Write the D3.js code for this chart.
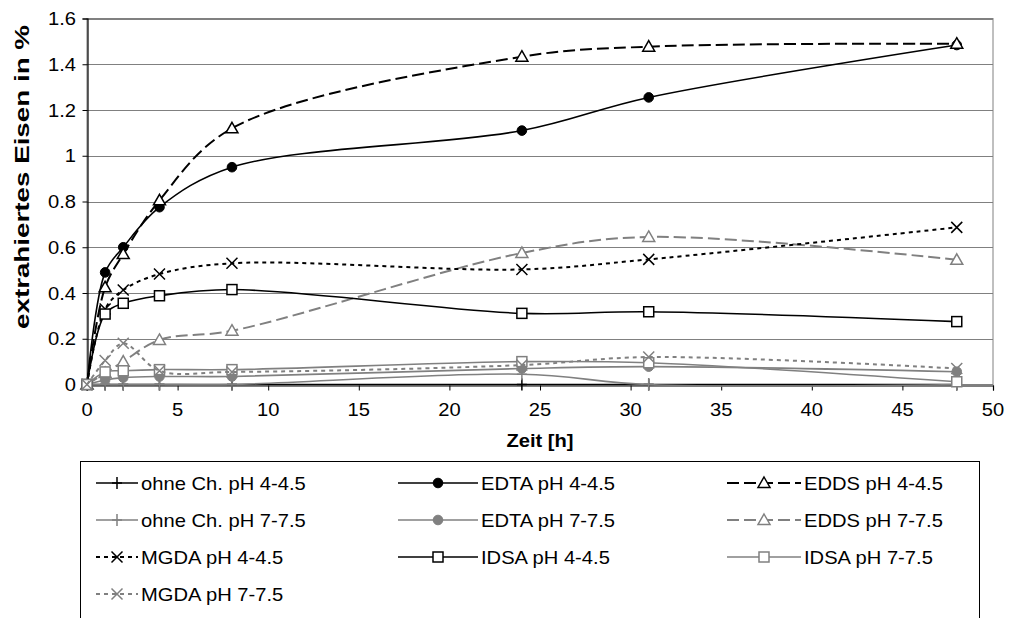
<!DOCTYPE html>
<html>
<head>
<meta charset="utf-8">
<script src="https://cdn.jsdelivr.net/npm/d3@7"></script>
<style>
  html, body { margin: 0; padding: 0; background: #fff; }
  svg { display: block; }
  text { font-family: "Liberation Sans", Arial, sans-serif; fill: #000; }
</style>
</head>
<body>
<svg id="chart" width="1009" height="618"></svg>
<script>
// Sampling times (h)
const times = [0, 1, 2, 4, 8, 24, 31, 48];

// Extracted iron (%) per chelator and pH range
const ohne4 = [0, 0, 0, 0, 0, 0, 0, 0];
const edta4 = [0, 0.49, 0.60, 0.775, 0.95, 1.11, 1.255, 1.484];
const edds4 = [0, 0.425, 0.57, 0.805, 1.12, 1.433, 1.477, 1.49];
const ohne7 = [0, 0, 0, 0, 0, 0.045, 0, 0];
const edta7 = [0, 0.02, 0.03, 0.035, 0.035, 0.07, 0.078, 0.056];
const edds7 = [0, 0.05, 0.10, 0.195, 0.235, 0.575, 0.645, 0.545];
const mgda4 = [0, 0.33, 0.413, 0.483, 0.53, 0.503, 0.547, 0.687];
const idsa4 = [0, 0.308, 0.355, 0.388, 0.415, 0.311, 0.318, 0.275];
const idsa7 = [0, 0.055, 0.06, 0.065, 0.065, 0.10, 0.095, 0.012];
const mgda7 = [0, 0.105, 0.18, 0.06, 0.055, 0.085, 0.12, 0.07];

const seriesNames = [
  "ohne Ch. pH 4-4.5", "EDTA pH 4-4.5", "EDDS pH 4-4.5",
  "ohne Ch. pH 7-7.5", "EDTA pH 7-7.5", "EDDS pH 7-7.5",
  "MGDA pH 4-4.5", "IDSA pH 4-4.5", "IDSA pH 7-7.5",
  "MGDA pH 7-7.5"
];
const seriesValues = [ohne4, edta4, edds4, ohne7, edta7, edds7, mgda4, idsa4, idsa7, mgda7];

const xTicks = [0, 5, 10, 15, 20, 25, 30, 35, 40, 45, 50];
const yTicks = [0, 0.2, 0.4, 0.6, 0.8, 1, 1.2, 1.4, 1.6];

const xTitle = "Zeit [h]";
const yTitle = "extrahiertes Eisen in %";

// Visual styles per series
const BLACK = "#000", GREY = "#808080";
const styles = [
  { color: BLACK, dash: null,   width: 1.6, marker: "plus" },
  { color: BLACK, dash: null,   width: 1.6, marker: "circle" },
  { color: BLACK, dash: "12,5", width: 2,   marker: "triangle" },
  { color: GREY,  dash: null,   width: 1.6, marker: "plus" },
  { color: GREY,  dash: null,   width: 1.6, marker: "circle" },
  { color: GREY,  dash: "12,5", width: 2,   marker: "triangle" },
  { color: BLACK, dash: "4,4",  width: 2,   marker: "cross" },
  { color: BLACK, dash: null,   width: 1.6, marker: "square" },
  { color: GREY,  dash: null,   width: 1.6, marker: "square" },
  { color: GREY,  dash: "4,4",  width: 2,   marker: "cross" }
];

const svg = d3.select("#chart");
const SX = 1.12; // horizontal text stretch

const x = d3.scaleLinear().domain([0, 50]).range([87, 993]);
const y = d3.scaleLinear().domain([0, 1.6]).range([384.5, 18.5]);

function stretchedText(sel, tx, ty, str, anchor, opts = {}) {
  const t = sel.append("text")
    .attr("transform", `translate(${tx},${ty}) scale(${SX},1)`)
    .attr("text-anchor", anchor)
    .attr("font-size", opts.size || 18)
    .attr("font-weight", opts.weight || "normal")
    .text(str);
  return t;
}

// Plot area frame
svg.append("rect")
  .attr("x", x(0)).attr("y", y(1.6))
  .attr("width", x(50) - x(0)).attr("height", y(0) - y(1.6))
  .attr("fill", "#fff").attr("stroke", GREY).attr("stroke-width", 1);

// Horizontal gridlines
svg.append("g").selectAll("line").data(yTicks.filter(d => d > 0)).join("line")
  .attr("x1", x(0)).attr("x2", x(50))
  .attr("y1", d => Math.round(y(d)) + 0.5).attr("y2", d => Math.round(y(d)) + 0.5)
  .attr("stroke", GREY).attr("stroke-width", 1);

// Axes
const xAxis = d3.axisBottom(x).tickValues(xTicks).tickSize(5).tickFormat("");
const yAxis = d3.axisLeft(y).tickValues(yTicks).tickSize(5).tickFormat("");
svg.append("g").attr("transform", `translate(0,${Math.round(y(0)) + 0.5})`).call(xAxis)
  .call(g => g.select(".domain").attr("stroke", BLACK).attr("stroke-width", 1.2))
  .call(g => g.selectAll(".tick line").attr("stroke", BLACK));
svg.append("g").attr("transform", `translate(${Math.round(x(0)) + 0.5},0)`).call(yAxis)
  .call(g => g.select(".domain").attr("stroke", BLACK).attr("stroke-width", 1.2))
  .call(g => g.selectAll(".tick line").attr("stroke", BLACK));

// Tick labels
xTicks.forEach(v => stretchedText(svg, x(v), 416, String(v), "middle"));
yTicks.forEach(v => stretchedText(svg, 76, y(v) + 6.5, String(v), "end"));

// Axis titles
stretchedText(svg, x(25), 447, xTitle, "middle", { weight: "bold" });
svg.append("text")
  .attr("transform", `translate(29,177) rotate(-90)`)
  .attr("text-anchor", "middle")
  .attr("font-size", 20).attr("font-weight", "bold")
  .attr("textLength", 304).attr("lengthAdjust", "spacingAndGlyphs")
  .text(yTitle);

// Marker drawing
function drawMarker(g, type, color, cx, cy) {
  const m = g.append("g").attr("transform", `translate(${cx},${cy})`);
  if (type === "plus") {
    m.append("path").attr("d", "M-5,0H5M0,-6V6").attr("stroke", color).attr("stroke-width", 1.5).attr("fill", "none");
  } else if (type === "circle") {
    m.append("circle").attr("r", 4.8).attr("fill", color).attr("stroke", color);
  } else if (type === "triangle") {
    m.append("path").attr("d", "M0,-6L6,4.5L-6,4.5Z").attr("fill", "#fff").attr("stroke", color).attr("stroke-width", 1.5);
  } else if (type === "square") {
    m.append("rect").attr("x", -5).attr("y", -5).attr("width", 10).attr("height", 10)
      .attr("fill", "#fff").attr("stroke", color).attr("stroke-width", 1.5);
  } else if (type === "cross") {
    m.append("path").attr("d", "M-5.5,-5.5L5.5,5.5M5.5,-5.5L-5.5,5.5").attr("stroke", color).attr("stroke-width", 1.5).attr("fill", "none");
  }
}

// Series lines and markers
const line = d3.line()
  .x((d, i) => x(times[i]))
  .y(d => y(d))
  .curve(d3.curveCatmullRom.alpha(0.5));

const plot = svg.append("g");
seriesValues.forEach((vals, si) => {
  const st = styles[si];
  const g = plot.append("g");
  g.append("path").datum(vals)
    .attr("d", line)
    .attr("fill", "none")
    .attr("stroke", st.color)
    .attr("stroke-width", st.width)
    .attr("stroke-dasharray", st.dash);
  vals.forEach((v, i) => drawMarker(g, st.marker, st.color, x(times[i]), y(v)));
});

// Legend
const legend = svg.append("g");
legend.append("rect")
  .attr("x", 80.5).attr("y", 461.5).attr("width", 899).attr("height", 200)
  .attr("fill", "#fff").attr("stroke", BLACK).attr("stroke-width", 1);

const colX = [96, 398, 727];
const rowY = [483, 520, 557, 594];
const sampleW = [42, 80, 74];
seriesNames.forEach((name, i) => {
  const st = styles[i];
  const c = i % 3, r = Math.floor(i / 3);
  const lx = colX[c], ly = rowY[r], w = sampleW[c];
  legend.append("line")
    .attr("x1", lx).attr("x2", lx + w).attr("y1", ly).attr("y2", ly)
    .attr("stroke", st.color).attr("stroke-width", st.width)
    .attr("stroke-dasharray", st.dash);
  drawMarker(legend, st.marker, st.color, lx + w / 2, ly);
  stretchedText(legend, lx + w + 3, ly + 6.5, name, "start");
});
</script>
</body>
</html>
